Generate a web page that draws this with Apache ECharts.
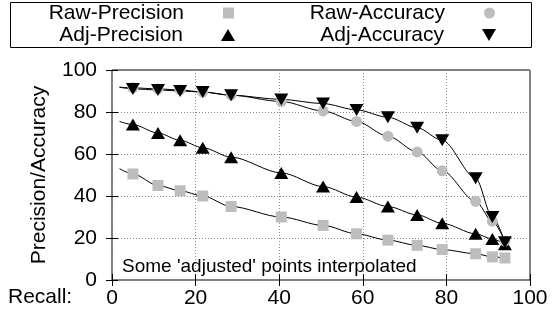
<!DOCTYPE html>
<html>
<head>
<meta charset="utf-8">
<script src="https://cdn.jsdelivr.net/npm/echarts@6/dist/echarts.min.js"></script>
<style>
  html, body { margin: 0; padding: 0; background: #fff; }
  #chart { width: 555px; height: 314px; }
</style>
</head>
<body>
<div id="chart"></div>
<script>
const recall = [5, 11, 16.3, 21.7, 28.5, 40.5, 50.5, 58.5, 66, 73, 79, 87, 91, 94]
const rawPrecision = [50.5, 45, 42.5, 40, 35, 30, 26, 22, 19, 16.5, 14.5, 12.5, 11, 10.5]
const adjPrecision = [74, 70, 66.5, 63, 58.5, 51, 44.5, 39.5, 35, 31, 27, 22, 19.5, 17]
const rawAccuracy = [91.5, 91, 90.5, 89.5, 88, 85, 80.5, 75.5, 68.5, 61, 52, 37.5, 28, 18.5]
const adjAccuracy = [91, 90.5, 90, 89.5, 88, 86, 84, 81, 77.5, 72.5, 66.5, 48.5, 30, 18]
// the fitted curves start a little left of the first marker
const curveStartRecall = 1.8
const curveStartValues = [53, 75.5, 91.8, 91.8]
const axisTicks = [0, 20, 40, 60, 80, 100]

const FONT = 'Liberation Sans, Arial, Helvetica, sans-serif'
const GREY = '#bdbdbd'
const DOWN_TRIANGLE = 'path://M0,0L14,0L7,12Z'

const pts = (ys) => recall.map((x, i) => [x, ys[i]])
const curve = (ys, k) => [[curveStartRecall, curveStartValues[k]]].concat(pts(ys))

const names = ['Raw-Precision', 'Adj-Precision', 'Raw-Accuracy', 'Adj-Accuracy']
const values = [rawPrecision, adjPrecision, rawAccuracy, adjAccuracy]
const marks = [
  { symbol: 'rect', size: [11, 11], color: GREY },
  { symbol: 'triangle', size: [14, 12], color: '#000' },
  { symbol: 'circle', size: [11, 11], color: GREY },
  { symbol: DOWN_TRIANGLE, size: [14, 12], color: '#000' }
]

const lineSeries = values.map((ys, k) => ({
  name: names[k] + ' fit',
  type: 'line',
  data: curve(ys, k),
  showSymbol: false,
  smooth: 0.3,
  smoothMonotone: 'x',
  silent: true,
  z: 2,
  lineStyle: { color: '#000', width: 1 }
}))

const pointSeries = values.map((ys, k) => ({
  name: names[k],
  type: 'scatter',
  data: pts(ys),
  symbol: marks[k].symbol,
  symbolSize: marks[k].size,
  z: 3 + k,
  itemStyle: { color: marks[k].color, opacity: 1 }
}))

// legend slots: [name, right, top, gap between text and symbol]
const legendSlots = [
  ['Raw-Precision', 321, 2, 34],
  ['Adj-Precision', 320, 24, 33],
  ['Raw-Accuracy', 60, 2, 34],
  ['Adj-Accuracy', 59, 24, 33]
]
const legends = legendSlots.map(([nm, right, top, gap]) => {
  const k = names.indexOf(nm)
  return {
    data: [{ name: nm, icon: marks[k].symbol }],
    right: right,
    top: top,
    align: 'right',
    padding: 0,
    selectedMode: false,
    itemWidth: marks[k].size[0],
    itemHeight: marks[k].size[1],
    textStyle: { fontFamily: FONT, fontSize: 21, color: '#000', lineHeight: 22, padding: [0, gap, 0, 0] }
  }
})

const axisCommon = {
  type: 'value',
  min: 0,
  max: 100,
  interval: 20,
  axisLine: { show: false },
  axisTick: { show: true, inside: true, length: 6, lineStyle: { color: '#000' } }
}

const chart = echarts.init(document.getElementById('chart'), null, { renderer: 'canvas' })
chart.setOption({
  animation: false,
  backgroundColor: '#fff',
  grid: { left: 112, right: 25, top: 70, bottom: 34, show: true, borderColor: '#000', borderWidth: 1 },
  legend: legends,
  xAxis: [
    Object.assign({}, axisCommon, {
      position: 'bottom',
      axisLabel: { fontFamily: FONT, fontSize: 21, color: '#000', margin: 8,
        formatter: (v) => axisTicks.includes(v) ? String(v) : '' },
      splitLine: { show: true, lineStyle: { color: '#888', type: [1, 2], width: 1 } }
    }),
    Object.assign({}, axisCommon, {
      position: 'top',
      axisLabel: { show: false },
      splitLine: { show: false }
    })
  ],
  yAxis: [
    Object.assign({}, axisCommon, {
      position: 'left',
      name: 'Precision/Accuracy',
      nameLocation: 'middle',
      nameGap: 62,
      nameTextStyle: { fontFamily: FONT, fontSize: 21, color: '#000' },
      axisLabel: { fontFamily: FONT, fontSize: 21, color: '#000', margin: 15 },
      splitLine: { show: true, lineStyle: { color: '#888', type: [1, 2], width: 1 } }
    }),
    Object.assign({}, axisCommon, {
      position: 'right',
      axisLabel: { show: false },
      splitLine: { show: false }
    })
  ],
  graphic: [
    {
      type: 'rect',
      shape: { x: 10.5, y: 2.5, width: 521, height: 45 },
      style: { fill: 'none', stroke: '#000', lineWidth: 1 },
      silent: true
    },
    {
      type: 'text',
      left: 8,
      top: 287,
      style: { text: 'Recall:', font: '21px ' + FONT, fill: '#000' }
    },
    {
      type: 'text',
      left: 122,
      top: 257,
      z: 10,
      style: { text: "Some 'adjusted' points interpolated", font: '19px ' + FONT, fill: '#000' }
    }
  ],
  series: lineSeries.concat(pointSeries)
})
</script>
</body>
</html>
